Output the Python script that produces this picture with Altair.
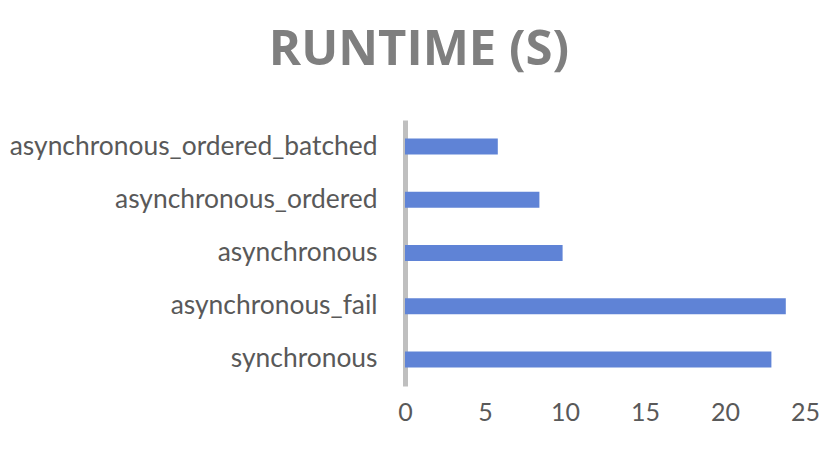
import altair as alt
import pandas as pd

methods = [
    "asynchronous_ordered_batched",
    "asynchronous_ordered",
    "asynchronous",
    "asynchronous_fail",
    "synchronous",
]
runtimes = [5.8, 8.4, 9.85, 23.8, 22.9]
x_ticks = [0, 5, 10, 15, 20, 25]

df = pd.DataFrame({"method": methods, "runtime": runtimes})

FONT = "Lato"
TEXT = "#595959"

chart = (
    alt.Chart(df)
    .mark_bar(color="#5f83d6")
    .encode(
        x=alt.X(
            "runtime:Q",
            scale=alt.Scale(domain=[0, 25], nice=False),
            axis=alt.Axis(
                values=x_ticks,
                title=None,
                grid=False,
                domain=False,
                ticks=False,
                labelFlush=False,
                labelFont=FONT,
                labelFontSize=25,
                labelColor=TEXT,
                labelPadding=14,
            ),
        ),
        y=alt.Y(
            "method:N",
            sort=methods,
            scale=alt.Scale(paddingInner=0.7, paddingOuter=0.35),
            axis=alt.Axis(
                title=None,
                ticks=False,
                domainColor="#bfbfbf",
                domainWidth=5,
                labelFont=FONT,
                labelFontSize=26.4,
                labelColor=TEXT,
                labelPadding=28,
                labelLimit=500,
            ),
        ),
    )
    .properties(
        width=400,
        height=266,
        title=alt.TitleParams(
            "RUNTIME (S)",
            font="Open Sans",
            fontSize=49,
            fontWeight="bold",
            color="#7f7f7f",
            anchor="middle",
            frame="group",
            dx=-186,
            baseline="alphabetic",
            offset=6,
        ),
        autosize=alt.AutoSizeParams(type="none"),
        padding={"left": 405, "top": 120, "right": 28, "bottom": 63},
    )
    .configure_view(stroke=None)
)

chart.save("out.html", embed_options={"renderer": "svg", "actions": False})
